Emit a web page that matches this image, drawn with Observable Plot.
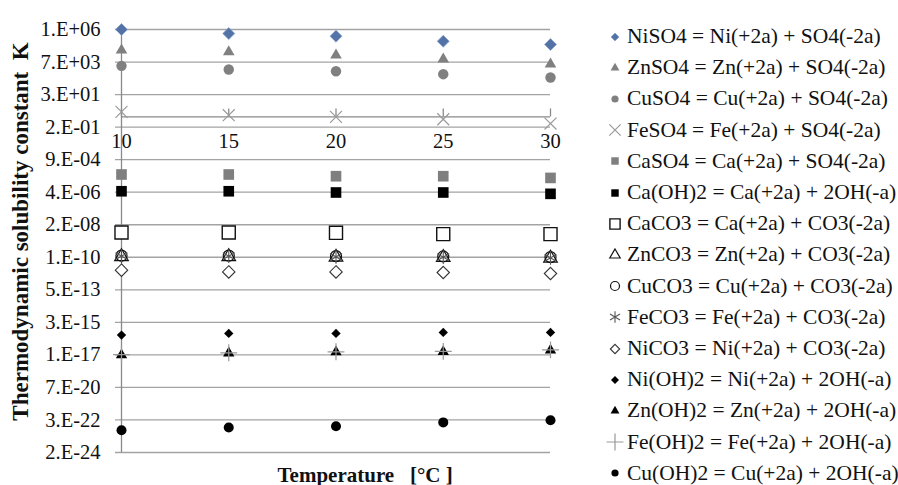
<!DOCTYPE html>
<html><head><meta charset="utf-8">
<script src="https://cdn.jsdelivr.net/npm/d3@7"></script>
<script src="https://cdn.jsdelivr.net/npm/@observablehq/plot@0.6"></script>
<style>
body{margin:0;background:#fff;}
#wrap{position:relative;width:898px;height:485px;overflow:hidden;font-family:"Liberation Serif","Times New Roman",serif;}
#chart{position:absolute;left:0;top:0;}
.row{position:absolute;left:605px;height:26px;display:flex;align-items:center;font-size:21.5px;color:#111;white-space:nowrap;font-family:"Liberation Serif","Times New Roman",serif;}
.row svg{width:20px;height:20px;margin-right:2px;flex:none;}
</style></head>
<body><div id="wrap"><div id="chart"></div><div id="legend"></div></div>
<script>
const temps = [10, 15, 20, 25, 30];
const xTickLabels = ["10", "15", "20", "25", "30"];
const yTickValues = [1e6, 5.19e3, 26.97, 0.1401, 7.27e-4, 3.78e-6, 1.96e-8, 1.02e-10, 5.29e-13, 2.75e-15, 1.43e-17, 7.41e-20, 3.85e-22, 2e-24];
const yTickLabels = ["1.E+06","7.E+03","3.E+01","2.E-01","9.E-04","4.E-06","2.E-08","1.E-10","5.E-13","3.E-15","1.E-17","7.E-20","3.E-22","2.E-24"];
const xAxisCross = 0.73;
const yTitle = "Thermodynamic solubility constant\u00a0\u00a0K";
const xTitle = "Temperature\u00a0\u00a0\u00a0[°C\u00a0]";

const seriesNames = [
  "NiSO4 = Ni(+2a) + SO4(-2a)",
  "ZnSO4 = Zn(+2a) + SO4(-2a)",
  "CuSO4 = Cu(+2a) + SO4(-2a)",
  "FeSO4 = Fe(+2a) + SO4(-2a)",
  "CaSO4 = Ca(+2a) + SO4(-2a)",
  "Ca(OH)2 = Ca(+2a) + 2OH(-a)",
  "CaCO3 = Ca(+2a) + CO3(-2a)",
  "ZnCO3 = Zn(+2a) + CO3(-2a)",
  "CuCO3 = Cu(+2a) + CO3(-2a)",
  "FeCO3 = Fe(+2a) + CO3(-2a)",
  "NiCO3 = Ni(+2a) + CO3(-2a)",
  "Ni(OH)2 = Ni(+2a) + 2OH(-a)",
  "Zn(OH)2 = Zn(+2a) + 2OH(-a)",
  "Fe(OH)2 = Fe(+2a) + 2OH(-a)",
  "Cu(OH)2 = Cu(+2a) + 2OH(-a)"
];
const niso4 = [1.0e6, 5.2e5, 3.4e5, 1.5e5, 8.9e4];
const znso4 = [3.5e4, 2.7e4, 1.6e4, 8.2e3, 3.7e3];
const cuso4 = [2.8e3, 1.55e3, 1.18e3, 7.3e2, 4.3e2];
const feso4 = [1.64, 0.96, 0.73, 0.50, 0.25];
const caso4 = [6.6e-5, 6.6e-5, 5.0e-5, 5.0e-5, 3.8e-5];
const caoh2 = [4.4e-6, 4.4e-6, 3.6e-6, 3.6e-6, 2.9e-6];
const caco3 = [5.6e-9, 5.6e-9, 5.3e-9, 4.3e-9, 4.3e-9];
const znco3 = [1.12e-10, 1.12e-10, 1.03e-10, 9.9e-11, 8.8e-11];
const cuco3 = [1.32e-10, 1.32e-10, 1.22e-10, 1.16e-10, 1.04e-10];
const feco3 = [1.22e-10, 1.22e-10, 1.09e-10, 1.04e-10, 9.2e-11];
const nico3 = [1.26e-11, 9.6e-12, 9.6e-12, 8.7e-12, 7.4e-12];
const nioh2 = [3.5e-16, 4.6e-16, 4.6e-16, 5.4e-16, 5.4e-16];
const znoh2 = [1.4e-17, 1.9e-17, 2.25e-17, 2.35e-17, 3.0e-17];
const feoh2 = [1.5e-17, 2.0e-17, 2.35e-17, 2.5e-17, 3.2e-17];
const cuoh2 = [7.4e-23, 1.15e-22, 1.4e-22, 2.6e-22, 3.7e-22];
const seriesValues = [niso4, znso4, cuso4, feso4, caso4, caoh2, caco3, znco3, cuco3, feco3, nico3, nioh2, znoh2, feoh2, cuoh2];

// marker styles (symbol, fill, stroke, plot radius, legend radius)
const markerStyles = [
  {symbol:"diamond2", fill:"#5373a6", stroke:"#8aa4cf", sw:0.8, r:5.4, lr:3.6},
  {symbol:"triangle", fill:"#808080", stroke:"none", sw:0, r:4.3, lr:3.3},
  {symbol:"circle", fill:"#808080", stroke:"none", sw:0, r:5.2, lr:3.6},
  {symbol:"times", fill:"none", stroke:"#9a9a9a", sw:1.2, r:5.5, lr:5.2},
  {symbol:"square", fill:"#7f7f7f", stroke:"none", sw:0, r:6.0, lr:4.2},
  {symbol:"square", fill:"#000", stroke:"none", sw:0, r:6.0, lr:4.2},
  {symbol:"square2", fill:"#fff", stroke:"#111", sw:1.4, r:8.3, lr:6.5},
  {symbol:"triangle2", fill:"none", stroke:"#111", sw:1.2, r:6.5, lr:5.0},
  {symbol:"circle", fill:"none", stroke:"#111", sw:1.2, r:5.5, lr:4.5},
  {symbol:"asterisk", fill:"none", stroke:"#555", sw:1.1, r:6.5, lr:5.5},
  {symbol:"diamond2", fill:"#fff", stroke:"#333", sw:1.1, r:5.6, lr:4.2},
  {symbol:"diamond2", fill:"#000", stroke:"none", sw:0, r:4.2, lr:3.6},
  {symbol:"triangle", fill:"#000", stroke:"none", sw:0, r:4.2, lr:3.3},
  {symbol:"plus", fill:"none", stroke:"#999", sw:1.2, r:5.5, lr:5.5},
  {symbol:"circle", fill:"#000", stroke:"none", sw:0, r:5.0, lr:3.6}
];

const rows = seriesValues.flatMap((vals, s) => vals.map((K, j) => ({s, T: temps[j], K})));
const yTicks = yTickValues.map((v, i) => ({v, label: yTickLabels[i]}));
const xTicks = temps.map((t, i) => ({t, label: xTickLabels[i]}));

const dotMarks = markerStyles.map((st, s) => Plot.dot(rows.filter(d => d.s === s), {
  x: "T", y: "K", symbol: st.symbol, r: st.r, fill: st.fill, stroke: st.stroke, strokeWidth: st.sw
}));

const chart = Plot.plot({
  width: 580, height: 485,
  marginLeft: 121, marginRight: 30, marginTop: 29, marginBottom: 33,
  style: {fontFamily: "'Liberation Serif','Times New Roman',serif", fontSize: "20px", background: "#fff", color: "#111"},
  x: {domain: [10, 30], axis: null},
  y: {type: "log", domain: [2e-24, 1e6], axis: null},
  marks: [
    Plot.ruleY(yTicks, {y: "v", stroke: "#a3a3a3", strokeWidth: 1.3, insetLeft: -6}),
    Plot.ruleY([xAxisCross], {stroke: "#8a8a8a", strokeWidth: 1.3}),
    Plot.ruleX(xTicks, {x: "t", y1: xAxisCross, y2: xAxisCross, insetTop: -8, stroke: "#8a8a8a", strokeWidth: 1.3}),
    Plot.ruleX([10], {stroke: "#8a8a8a", strokeWidth: 1.3}),
    Plot.text(yTicks, {y: "v", text: "label", frameAnchor: "left", textAnchor: "end", dx: -21, fontSize: 20.5, fill: "#111"}),
    Plot.text(xTicks, {x: "t", y: () => xAxisCross, text: "label", dy: 25, fontSize: 20.5, fill: "#111"}),
    ...dotMarks,
    Plot.text([yTitle], {text: d => d, frameAnchor: "left", textAnchor: "middle", lineAnchor: "middle", rotate: -90, dx: -101, dy: -9.5, fontWeight: "bold", fontSize: 23, fill: "#111"}),
    Plot.text([xTitle], {text: d => d, frameAnchor: "bottom-left", textAnchor: "start", lineAnchor: "bottom", dx: 156, dy: 29, fontWeight: "bold", fontSize: 21, fill: "#111"})
  ]
});
document.getElementById("chart").appendChild(chart);

// legend
const legend = document.getElementById("legend");
const typeMap = {diamond2: d3.symbolDiamond2, triangle: d3.symbolTriangle, circle: d3.symbolCircle, times: d3.symbolTimes,
  square: d3.symbolSquare, square2: d3.symbolSquare2, triangle2: d3.symbolTriangle2, asterisk: d3.symbolAsterisk, plus: d3.symbolPlus};
seriesNames.forEach((name, i) => {
  const st = markerStyles[i];
  const row = document.createElement("div");
  row.className = "row";
  row.style.top = (36.5 + i * 31.2 - 13) + "px";
  const svg = d3.create("svg").attr("viewBox", "-10 -10 20 20");
  svg.append("path")
    .attr("d", d3.symbol(typeMap[st.symbol], Math.PI * st.lr * st.lr)())
    .attr("fill", st.fill).attr("stroke", st.stroke).attr("stroke-width", st.sw);
  row.appendChild(svg.node());
  const span = document.createElement("span");
  span.textContent = name;
  row.appendChild(span);
  legend.appendChild(row);
});
</script>
</body></html>
